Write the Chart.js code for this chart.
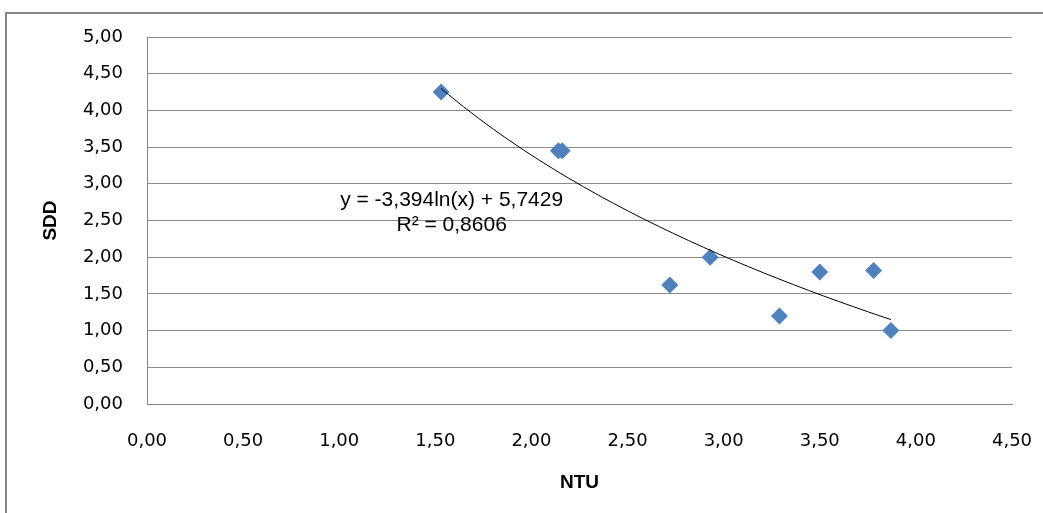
<!DOCTYPE html>
<html>
<head>
<meta charset="utf-8">
<style>
  html, body { margin: 0; padding: 0; background: #ffffff; }
  #wrap { width: 1043px; height: 513px; position: relative; }
</style>
<script src="https://cdn.jsdelivr.net/npm/chart.js@4/dist/chart.umd.min.js"></script>
</head>
<body>
<div id="wrap"><canvas id="c" width="1043" height="513"></canvas></div>
<script>
// Turbidity (NTU) against Secchi disk depth (SDD)
const ntu = [1.53, 2.14, 2.16, 2.72, 2.93, 3.29, 3.50, 3.78, 3.87];
const sdd = [4.25, 3.45, 3.45, 1.62, 2.00, 1.20, 1.80, 1.82, 1.00];

// Logarithmic trend: y = a*ln(x) + b
const trendA = -3.394;
const trendB = 5.7429;
const trendR2 = 0.8606;

const xTicks = [0, 0.5, 1, 1.5, 2, 2.5, 3, 3.5, 4, 4.5];
const yTicks = [0, 0.5, 1, 1.5, 2, 2.5, 3, 3.5, 4, 4.5, 5];

const fmt = (v, d) => v.toFixed(d).replace('.', ',');

// Points along the trend curve, spanning the measured NTU range
const xMin = Math.min(...ntu), xMax = Math.max(...ntu);
const trendPts = [];
const steps = 60;
for (let i = 0; i <= steps; i++) {
  const x = xMin + (xMax - xMin) * i / steps;
  trendPts.push({ x: x, y: trendA * Math.log(x) + trendB });
}

const eqLines = [
  'y = ' + fmt(trendA, 3) + 'ln(x) + ' + fmt(trendB, 4),
  'R\u00B2 = ' + fmt(trendR2, 4)
];

const frame = {
  id: 'frame',
  beforeDraw(chart) {
    const ctx = chart.ctx;
    ctx.save();
    ctx.strokeStyle = '#868686';
    ctx.lineWidth = 2;
    ctx.strokeRect(6, 13, 1060, 530);
    ctx.restore();
  }
};

const equation = {
  id: 'equation',
  afterDatasetsDraw(chart) {
    const ctx = chart.ctx;
    const xs = chart.scales.x, ys = chart.scales.y;
    const cx = xs.getPixelForValue(1.585);
    ctx.save();
    ctx.font = '21px "Liberation Sans", Arial, sans-serif';
    ctx.fillStyle = '#000000';
    ctx.textAlign = 'center';
    ctx.textBaseline = 'middle';
    ctx.fillText(eqLines[0], cx, ys.getPixelForValue(2.78));
    ctx.fillText(eqLines[1], cx, ys.getPixelForValue(2.43));
    ctx.restore();
  }
};

const tickFont = { family: '"DejaVu Sans", Verdana, sans-serif', size: 18 };
const titleFont = { family: '"Liberation Sans", Arial, sans-serif', size: 19, weight: 'bold' };

new Chart(document.getElementById('c'), {
  type: 'scatter',
  data: {
    datasets: [
      {
        label: 'trend',
        type: 'line',
        data: trendPts,
        borderColor: '#000000',
        borderWidth: 1,
        pointRadius: 0,
        fill: false,
        tension: 0,
        order: 0
      },
      {
        label: 'SDD',
        data: ntu.map((x, i) => ({ x: x, y: sdd[i] })),
        pointStyle: 'rectRot',
        pointRadius: 8.5,
        backgroundColor: '#4F81BD',
        borderColor: '#4F81BD',
        borderWidth: 0,
        order: 1
      }
    ]
  },
  options: {
    responsive: false,
    animation: false,
    events: [],
    layout: { padding: { left: 0, top: 37, right: 31, bottom: 0 } },
    plugins: {
      legend: { display: false },
      tooltip: { enabled: false }
    },
    scales: {
      x: {
        type: 'linear',
        min: 0, max: 4.5,
        afterBuildTicks: (s) => { s.ticks = xTicks.map(v => ({ value: v })); },
        afterFit: (s) => { s.height = 109; s.paddingLeft = 0; s.paddingRight = 0; },
        grid: { display: false, drawTicks: false },
        border: { display: true, color: '#868686', width: 1 },
        ticks: { font: tickFont, color: '#000000', padding: 27, maxRotation: 0, callback: (v) => fmt(v, 2) },
        title: { display: true, text: 'NTU', font: titleFont, color: '#000000', padding: { top: 0, bottom: 19 } }
      },
      y: {
        type: 'linear',
        min: 0, max: 5,
        afterBuildTicks: (s) => { s.ticks = yTicks.map(v => ({ value: v })); },
        afterFit: (s) => { s.width = 147; s.paddingTop = 0; s.paddingBottom = 0; },
        grid: { color: '#8c8c8c', lineWidth: 1, drawTicks: false },
        border: { display: true, color: '#868686', width: 1 },
        ticks: { font: tickFont, color: '#000000', padding: 24, callback: (v) => fmt(v, 2) },
        title: { display: true, text: 'SDD', font: titleFont, color: '#000000', padding: { top: 39, bottom: 0 } }
      }
    }
  },
  plugins: [frame, equation]
});
</script>
</body>
</html>
